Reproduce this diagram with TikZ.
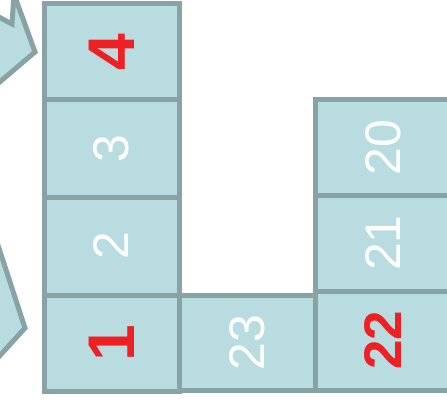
\documentclass[tikz,border=0pt]{standalone}
\usepackage{fontspec}
\setmainfont{Liberation Sans}
\definecolor{boxfill}{HTML}{B9DCE0}
\definecolor{boxline}{HTML}{87A3A5}
\definecolor{numred}{HTML}{EE2024}
\begin{document}
\begin{tikzpicture}[x=1pt,y=-1pt,
  cell/.style={draw=boxline,fill=boxfill,line width=5pt,rectangle,inner sep=0pt,outer sep=0pt,
    minimum width=#1},
  cell/.default=135,
  wnum/.style={text=white,font=\fontsize{50}{50}\selectfont,rotate=90,inner sep=0pt},
  rnum/.style={text=numred,font=\fontsize{#1}{#1}\selectfont\bfseries,rotate=90,inner sep=0pt},
  rnum/.default=66,
  arrowshape/.style={draw=boxline,fill=boxfill,line width=5pt,line join=miter}]
\useasboundingbox (0,0) rectangle (447,401);
\clip (0,0) rectangle (447,401);
% arrows on the left
\draw[arrowshape] (-5,15) -- (12,24) -- (14,-6) -- (35,52) -- (-5,86) -- cycle;
\draw[arrowshape] (-5,236) -- (25,328) -- (-5,361) -- cycle;
% left column
\node[cell, minimum height=95.5] (b4) at (111.5,51.75) {};
\node[cell, minimum height=97.5] (b3) at (111.5,148.25) {};
\node[cell, minimum height=98] (b2) at (111.5,246) {};
\node[cell, minimum height=96] (b1) at (111.5,343) {};
% bottom middle
\node[cell=136, minimum height=95] (b23) at (247,342.5) {};
% right column
\node[cell=136, minimum height=95.5] (b20) at (383,147.25) {};
\node[cell=136, minimum height=96] (b21) at (383,243) {};
\node[cell=136, minimum height=99] (b22) at (383,340.5) {};
% labels
\node[rnum] (t4) at (b4.center) {4};
\node[wnum] (t3) at (b3.center) {3};
\node[wnum] (t2) at (b2.center) {2};
\node[rnum] (t1) at (b1.center) {1};
\node[wnum] (t23) at (b23.center) {23};
\node[wnum] (t20) at (b20.center) {20};
\node[wnum] (t21) at (b21.center) {21};
\node[rnum=53] (t22) at (b22.center) {22};
\end{tikzpicture}
\end{document}
